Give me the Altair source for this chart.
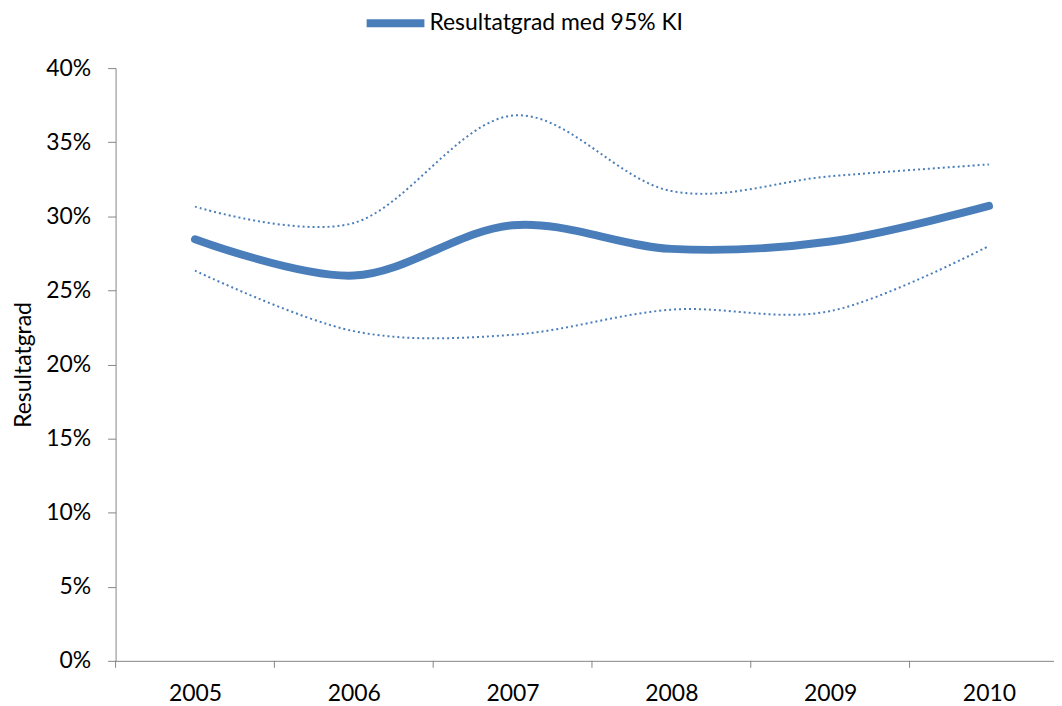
import altair as alt
import pandas as pd

years = [2005, 2006, 2007, 2008, 2009, 2010]
main = [0.2845, 0.2600, 0.2940, 0.2780, 0.2830, 0.3070]
upper = [0.3065, 0.2955, 0.3680, 0.3170, 0.3270, 0.3350]
lower = [0.2633, 0.2225, 0.2200, 0.2370, 0.2360, 0.2800]
boundaries = [2004.5, 2005.5, 2006.5, 2007.5, 2008.5, 2009.5]

df = pd.DataFrame({"year": years, "main": main, "upper": upper, "lower": lower})
bdf = pd.DataFrame({"b": boundaries})

BLUE = "#4A7EBB"
GRAY = "#868686"
FONT = "Lato"
W, H = 942, 595

xscale = alt.Scale(domain=[2004.5, 2004.5 + W / 159.4], nice=False, zero=False)

x_enc = alt.X(
    "year:Q",
    scale=xscale,
    axis=alt.Axis(
        values=years,
        format="d",
        labelOverlap=False,
        labelFlush=False,
        ticks=False,
        labelPadding=22,
        title=None,
        grid=False,
        domainColor=GRAY,
        labelFontSize=23,
        labelFont=FONT,
        labelColor="#000000",
    ),
)

y_enc = alt.Y(
    "main:Q",
    scale=alt.Scale(domain=[0, 0.4], nice=False),
    axis=alt.Axis(
        values=[0, 0.05, 0.1, 0.15, 0.2, 0.25, 0.3, 0.35, 0.4],
        format=".0%",
        title="Resultatgrad",
        titleFont=FONT,
        titleFontSize=23,
        titleFontWeight="normal",
        titleColor="#000000",
        titlePadding=10,
        tickSize=8,
        tickColor=GRAY,
        domainColor=GRAY,
        labelPadding=17,
        labelFontSize=23,
        labelFont=FONT,
        labelColor="#000000",
        grid=False,
    ),
)

base = alt.Chart(df)

main_line = base.mark_line(
    interpolate="cardinal", tension=0, strokeWidth=8, strokeCap="round"
).encode(
    x=x_enc,
    y=y_enc,
    color=alt.Color(
        "leg:N",
        scale=alt.Scale(range=[BLUE]),
        legend=alt.Legend(
            title=None,
            orient="none",
            legendX=248,
            legendY=-78,
            symbolType="stroke",
            symbolSize=3364,
            symbolStrokeWidth=8,
            symbolStrokeColor=BLUE,
            labelFont=FONT,
            labelFontSize=23,
            labelColor="#000000",
            labelOffset=1,
            labelLimit=600,
        ),
    ),
).transform_calculate(leg="'Resultatgrad med 95% KI'")

upper_line = base.mark_line(
    interpolate="cardinal", tension=0, strokeWidth=2, strokeDash=[2, 3], color=BLUE
).encode(x="year:Q", y="upper:Q")

lower_line = base.mark_line(
    interpolate="cardinal", tension=0, strokeWidth=2, strokeDash=[2, 3], color=BLUE
).encode(x="year:Q", y="lower:Q")

ticks = alt.Chart(bdf).mark_rule(color=GRAY, strokeWidth=1).encode(
    x=alt.X("b:Q", scale=xscale),
    y=alt.value(H),
    y2=alt.value(H + 7),
)

chart = alt.layer(upper_line, lower_line, main_line, ticks).properties(
    width=W,
    height=H,
    autosize=alt.AutoSizeParams(type="none"),
    padding={"left": 108, "top": 59, "right": 0, "bottom": 44},
    background="white",
).configure_view(stroke=None)

chart.save("out.html", embed_options={"renderer": "svg", "actions": False})
